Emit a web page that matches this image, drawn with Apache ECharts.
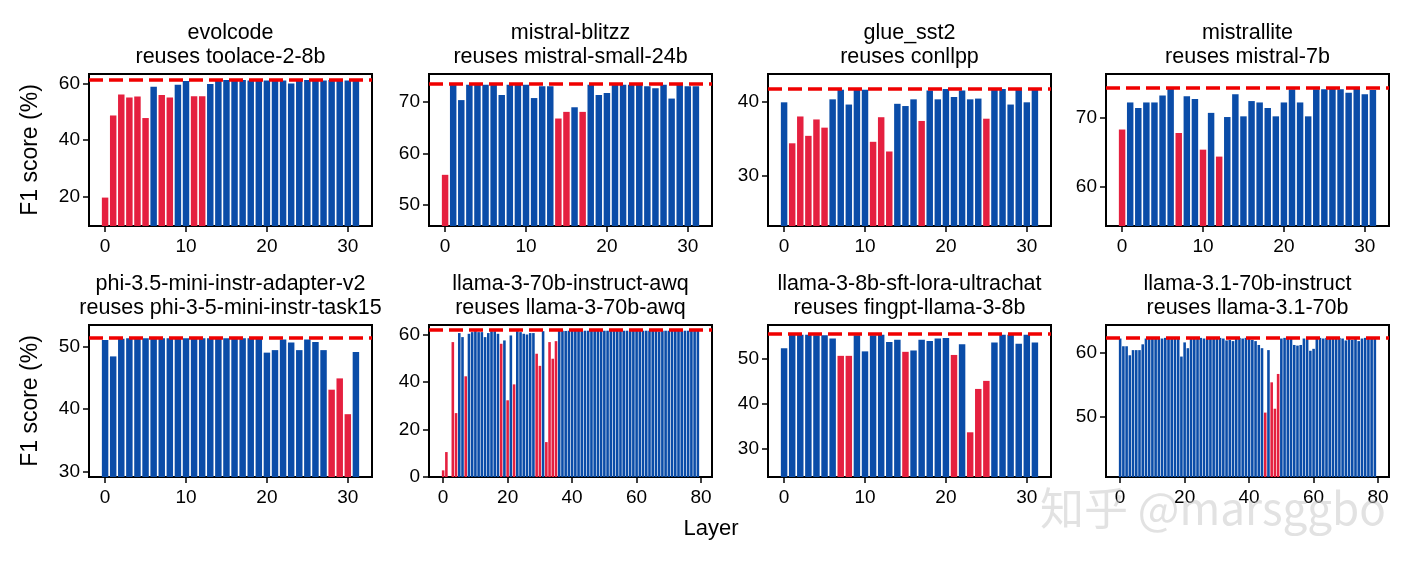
<!DOCTYPE html>
<html>
<head>
<meta charset="utf-8">
<script src="https://cdn.jsdelivr.net/npm/echarts@6/dist/echarts.min.js"></script>
<style>
html, body { margin: 0; padding: 0; background: #fff; }
#main { width: 1410px; height: 563px; }
</style>
</head>
<body>
<div id="main"></div>
<script>
// F1 score per layer, one array per panel; *Red = layers drawn in red
var evolcodeVals = [19.8, 48.7, 56.1, 55.0, 55.4, 47.8, 58.8, 55.9, 55.0, 59.5, 60.8, 55.5, 55.5, 59.8,
    61.0, 61.2, 61.0, 61.2, 61.0, 61.2, 61.0, 61.2, 61.0, 60.0, 61.0, 61.2, 61.2, 61.0, 61.2, 61.2, 61.0, 61.0];
var evolcodeRed = [0, 1, 2, 3, 4, 5, 7, 8, 11, 12];
var evolcodeBase = 61.3;

var blitzzVals = [55.8, 73.4, 70.4, 73.4, 73.4, 73.4, 73.4, 71.4, 73.4, 73.4, 73.4, 70.8, 73.1, 73.1,
    66.8, 68.1, 69.0, 68.1, 73.4, 71.4, 71.8, 73.4, 73.4, 73.4, 73.4, 73.1, 72.7, 73.4, 70.7, 73.4, 73.1, 73.1];
var blitzzRed = [0, 14, 15, 17];
var blitzzBase = 73.5;

var sst2Vals = [39.9, 34.4, 38.0, 35.4, 37.6, 36.5, 40.3, 41.6, 39.6, 41.7, 41.6, 34.6, 37.9, 33.3,
    39.7, 39.4, 40.3, 37.4, 41.5, 40.3, 41.7, 40.6, 41.5, 40.3, 40.4, 37.7, 41.7, 41.7, 39.6, 41.7, 39.9, 41.6];
var sst2Red = [1, 2, 3, 4, 5, 11, 12, 13, 17, 25];
var sst2Base = 41.7;

var mistralliteVals = [68.3, 72.2, 71.4, 72.2, 72.2, 73.2, 74.2, 67.8, 73.1, 72.7, 65.4, 70.7, 64.4, 70.1,
    73.4, 70.2, 72.4, 72.2, 71.4, 70.2, 72.2, 74.1, 72.2, 70.2, 74.1, 74.1, 74.2, 74.1, 73.6, 74.2, 73.4, 74.0];
var mistralliteRed = [0, 7, 10, 12];
var mistralliteBase = 74.3;

var phiVals = [51.0, 48.4, 51.2, 51.3, 51.3, 51.3, 51.3, 51.3, 51.3, 51.3, 51.3, 51.3, 51.3, 51.3,
    51.3, 51.3, 51.3, 51.3, 51.3, 51.3, 49.0, 49.4, 51.1, 50.6, 49.4, 51.1, 50.7, 49.4, 43.1, 44.9, 39.2, 49.1];
var phiRed = [28, 29, 30];
var phiBase = 51.4;

var awqVals = [2.8, 10.5, 0, 56.8, 26.9, 60.6, 58.9, 42.4, 60.3, 61.0, 61.4, 61.0, 61.0, 58.9, 60.6, 61.4,
    61.4, 60.3, 56.1, 57.5, 32.3, 59.6, 39.0, 61.4, 61.0, 60.3, 60.0, 60.6, 60.6, 51.9, 46.8, 61.4,
    14.7, 56.8, 49.8, 57.2, 61.6, 61.6, 61.5, 61.6, 61.6, 61.6, 61.5, 61.6, 61.6, 61.6, 61.6, 61.5,
    61.6, 61.6, 61.6, 61.6, 61.6, 61.5, 61.6, 61.6, 61.6, 61.6, 61.6, 61.6, 61.5, 61.6, 61.6, 61.6,
    61.6, 61.6, 61.6, 61.3, 61.6, 61.6, 61.6, 61.6, 61.6, 61.5, 61.6, 61.6, 61.6, 61.6, 61.6, 61.6];
var awqRed = [0, 1, 2, 3, 4, 7, 18, 20, 22, 29, 30, 32, 33, 34, 35];
var awqBase = 62.0;

var ultrachatVals = [52.4, 55.4, 55.4, 55.4, 55.3, 55.3, 54.6, 50.7, 50.7, 55.3, 51.7, 55.3, 55.4, 53.8,
    54.3, 51.6, 51.9, 54.3, 54.0, 54.6, 54.7, 50.9, 53.3, 33.6, 43.3, 45.1, 53.7, 55.4, 55.4, 53.4, 55.4, 53.7];
var ultrachatRed = [7, 8, 15, 21, 23, 24, 25];
var ultrachatBase = 55.6;

var llama31Vals = [62.2, 61.0, 61.0, 59.6, 60.4, 60.4, 60.4, 61.3, 62.2, 62.3, 62.3, 62.2, 62.3, 62.2, 62.3, 62.2,
    62.3, 62.2, 62.3, 59.4, 61.6, 60.7, 62.2, 62.3, 62.2, 62.3, 62.2, 62.3, 62.2, 62.3, 62.2, 62.3,
    62.2, 61.9, 62.0, 61.8, 62.2, 62.3, 62.2, 62.3, 62.2, 62.0, 61.8, 61.2, 60.7, 50.7, 60.4, 55.4,
    51.3, 56.7, 62.2, 62.3, 62.2, 62.2, 61.2, 61.1, 61.2, 62.2, 62.2, 60.3, 60.6, 62.2, 62.3, 62.2,
    62.3, 62.2, 62.3, 62.2, 62.3, 62.2, 61.9, 62.2, 62.0, 62.2, 61.8, 62.2, 62.3, 62.2, 62.2, 62.2];
var llama31Red = [45, 47, 48, 49];
var llama31Base = 62.3;

var panelTitles = [
    ['evolcode', 'reuses toolace-2-8b'],
    ['mistral-blitzz', 'reuses mistral-small-24b'],
    ['glue_sst2', 'reuses conllpp'],
    ['mistrallite', 'reuses mistral-7b'],
    ['phi-3.5-mini-instr-adapter-v2', 'reuses phi-3-5-mini-instr-task15'],
    ['llama-3-70b-instruct-awq', 'reuses llama-3-70b-awq'],
    ['llama-3-8b-sft-lora-ultrachat', 'reuses fingpt-llama-3-8b'],
    ['llama-3.1-70b-instruct', 'reuses llama-3.1-70b']
];
var panelVals = [evolcodeVals, blitzzVals, sst2Vals, mistralliteVals, phiVals, awqVals, ultrachatVals, llama31Vals];
var panelRed = [evolcodeRed, blitzzRed, sst2Red, mistralliteRed, phiRed, awqRed, ultrachatRed, llama31Red];
var panelBase = [evolcodeBase, blitzzBase, sst2Base, mistralliteBase, phiBase, awqBase, ultrachatBase, llama31Base];
var yTicks = [[20, 40, 60], [50, 60, 70], [30, 40], [60, 70], [30, 40, 50], [0, 20, 40, 60], [30, 40, 50], [50, 60]];
var xTicks32 = [0, 10, 20, 30];
var xTicks80 = [0, 20, 40, 60, 80];

var BLUE = '#0a4ca8';
var RED = '#e5203f';
var FONT = '"Liberation Sans", Arial, sans-serif';

var colLeft = [89, 429, 768, 1106];
var rowTop = [74, 325];
var gw = 283, gh = 152;

function buildOption() {
    var grids = [], xAxes = [], yAxes = [], series = [], graphics = [];

    for (var i = 0; i < 8; i++) {
        var vals = panelVals[i];
        var n = vals.length;
        var gLeft = colLeft[i % 4], gTop = rowTop[Math.floor(i / 4)];
        grids.push({
            left: gLeft, top: gTop, width: gw, height: gh,
            show: true, borderColor: '#000', borderWidth: 2
        });

        // same margins matplotlib gives: 5% of the bar span on each side
        var span = (n - 1) + 0.8;
        var xt = n > 40 ? xTicks80 : xTicks32;
        xAxes.push({
            type: 'value', gridIndex: i,
            min: -0.4 - 0.05 * span, max: n - 1 + 0.4 + 0.05 * span,
            splitLine: { show: false },
            axisLine: { show: false, onZero: false },
            axisTick: { show: true, customValues: xt, length: 6, lineStyle: { color: '#000', width: 1.5 } },
            axisLabel: { customValues: xt, color: '#000', fontSize: 19, fontFamily: FONT, margin: 11 }
        });

        var lo = Math.min.apply(null, vals), hi = Math.max(Math.max.apply(null, vals), panelBase[i]);
        yAxes.push({
            type: 'value', gridIndex: i,
            min: Math.max(0, lo - 10), max: hi + 2,
            splitLine: { show: false },
            axisLine: { show: false, onZero: false },
            axisTick: { show: true, customValues: yTicks[i], length: 6, lineStyle: { color: '#000', width: 1.5 } },
            axisLabel: { customValues: yTicks[i], color: '#000', fontSize: 19, fontFamily: FONT, margin: 9 }
        });

        var red = panelRed[i];
        var data = vals.map(function (v, k) {
            return { value: [k, v], itemStyle: { color: red.indexOf(k) >= 0 ? RED : BLUE } };
        });
        series.push({
            type: 'bar', xAxisIndex: i, yAxisIndex: i,
            barWidth: '80%',
            data: data,
            markLine: {
                silent: true, symbol: ['none', 'none'],
                label: { show: false },
                lineStyle: { color: '#f00000', type: [14, 6], width: 3.5, opacity: 1 },
                data: [{ yAxis: panelBase[i] }]
            }
        });

        graphics.push({
            type: 'text', x: gLeft + gw / 2, y: gTop - 53,
            style: {
                text: panelTitles[i].join('\n'), align: 'center', verticalAlign: 'top',
                font: '21.5px ' + FONT, lineHeight: 24, fill: '#000'
            }
        });
    }

    graphics.push({
        type: 'text', x: 31, y: rowTop[0] + gh / 2, rotation: Math.PI / 2,
        style: { text: 'F1 score (%)', align: 'center', verticalAlign: 'middle', font: '23px ' + FONT, fill: '#000' }
    });
    graphics.push({
        type: 'text', x: 31, y: rowTop[1] + gh / 2, rotation: Math.PI / 2,
        style: { text: 'F1 score (%)', align: 'center', verticalAlign: 'middle', font: '23px ' + FONT, fill: '#000' }
    });
    graphics.push({
        type: 'text', x: 711, y: 529,
        style: { text: 'Layer', align: 'center', verticalAlign: 'middle', font: '22px ' + FONT, fill: '#000' }
    });
    // watermark
    graphics.push({
        type: 'text', x: 1040, y: 508, z: 100,
        style: {
            text: '知乎 @marsggbo', align: 'left', verticalAlign: 'middle',
            font: '44px "Noto Sans CJK SC", sans-serif', fill: 'rgba(190,190,190,0.45)'
        }
    });

    return {
        animation: false,
        grid: grids,
        xAxis: xAxes,
        yAxis: yAxes,
        series: series,
        graphic: graphics
    };
}

var my_chart = echarts.init(document.getElementById('main'));
my_chart.setOption(buildOption());
</script>
</body>
</html>
